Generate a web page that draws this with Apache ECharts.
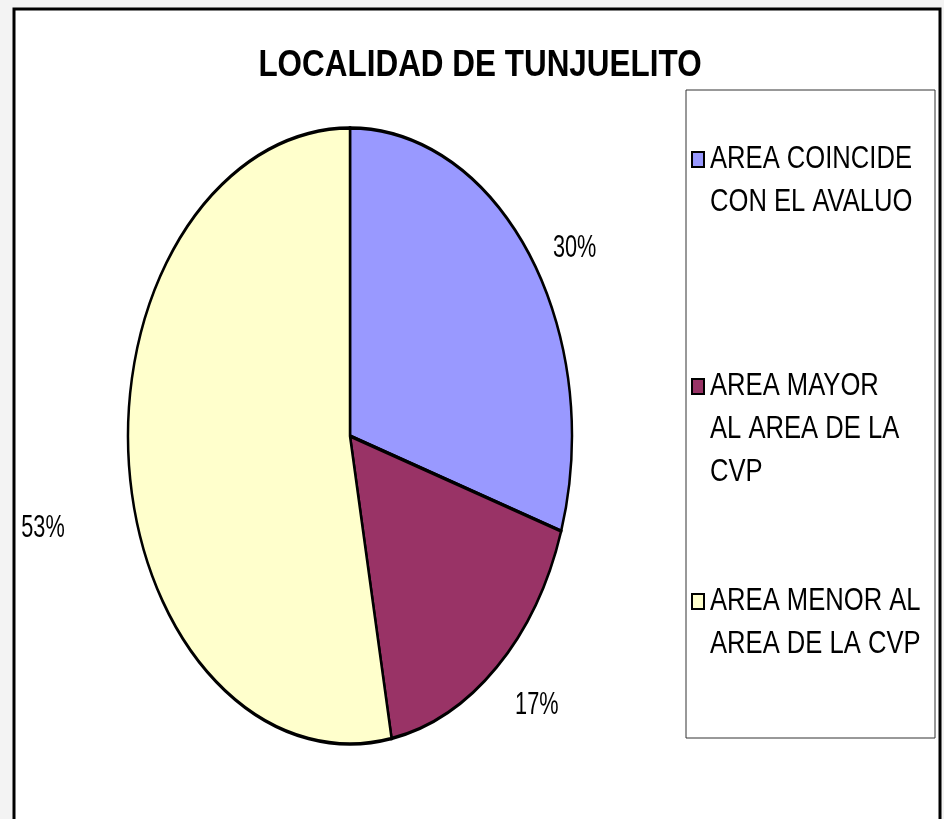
<!DOCTYPE html>
<html>
<head>
<meta charset="utf-8">
<script src="https://cdn.jsdelivr.net/npm/echarts@6/dist/echarts.min.js"></script>
<style>
  html, body { margin: 0; padding: 0; background: #f3f3f3; }
  #chart { width: 944px; height: 819px; }
</style>
</head>
<body>
<div id="chart"></div>
<script>
var chartTitle = 'LOCALIDAD DE TUNJUELITO';
var categories = ['AREA COINCIDE CON EL AVALUO', 'AREA MAYOR AL AREA DE LA CVP', 'AREA MENOR AL AREA DE LA CVP'];
var legendLines = [['AREA COINCIDE', 'CON EL AVALUO'], ['AREA MAYOR', 'AL AREA DE LA', 'CVP'], ['AREA MENOR AL', 'AREA DE LA CVP']];
var values = [30, 17, 53];
var colors = ['#9999ff', '#993366', '#ffffcc'];

// layout (stretched Excel pie -> ellipse)
var cx = 350, cy = 436, rx = 222, ry = 308;
var labelNudge = [[45, -7], [40, 38], [-86, 63]];
var legendTops = [159, 386, 601];
var lineH = 43;
var font = '"Liberation Sans", Arial, sans-serif';

var total = values.reduce(function (a, b) { return a + b; }, 0);
var startAngles = [];
var acc = 0;
values.forEach(function (v) {
  startAngles.push(-Math.PI / 2 + acc / total * Math.PI * 2);
  acc += v;
});

function renderSlice(params, api) {
  var i = params.dataIndex;
  var v = api.value(0);
  var a0 = startAngles[i];
  var a1 = a0 + v / total * Math.PI * 2;
  var mid = (a0 + a1) / 2;
  return {
    type: 'group',
    children: [{
      type: 'sector',
      shape: {cx: cx, cy: cy, r: rx, r0: 0, startAngle: a0, endAngle: a1, clockwise: true},
      scaleY: ry / rx,
      originX: cx,
      originY: cy,
      style: {fill: colors[i], stroke: '#000', lineWidth: 2.5, strokeNoScale: true}
    }, {
      type: 'text',
      x: cx + rx * Math.cos(mid) + labelNudge[i][0],
      y: cy + ry * Math.sin(mid) + labelNudge[i][1],
      scaleX: 0.7,
      style: {
        text: Math.round(v / total * 100) + '%',
        fill: '#000',
        font: '31px ' + font,
        align: 'center',
        verticalAlign: 'middle'
      }
    }]
  };
}

// legend drawn as graphic so the marker sits on the first text line
var legendItems = [];
legendLines.forEach(function (lines, i) {
  legendItems.push({
    type: 'rect',
    shape: {x: 692, y: legendTops[i] - 7, width: 12, height: 15},
    style: {fill: colors[i], stroke: '#000', lineWidth: 2}
  });
  lines.forEach(function (t, k) {
    legendItems.push({
      type: 'text',
      x: 710,
      y: legendTops[i] + k * lineH,
      scaleX: 0.8,
      style: {text: t, fill: '#000', font: '32px ' + font, verticalAlign: 'middle'}
    });
  });
});

var chart = echarts.init(document.getElementById('chart'));
chart.setOption({
  backgroundColor: '#f3f3f3',
  animation: false,
  graphic: [{
    type: 'rect',
    z: -10,
    shape: {x: 14, y: 9, width: 926, height: 830},
    style: {fill: '#fff', stroke: '#000', lineWidth: 3}
  }, {
    type: 'rect',
    z: -5,
    shape: {x: 686, y: 90, width: 249, height: 648},
    style: {fill: '#fff', stroke: '#333', lineWidth: 1}
  }, {
    type: 'text',
    x: 480,
    y: 66,
    scaleX: 0.85,
    style: {text: chartTitle, fill: '#000', font: 'bold 37px ' + font, align: 'center', verticalAlign: 'middle'}
  }, {
    type: 'group',
    children: legendItems
  }],
  series: [{
    type: 'custom',
    name: 'Tunjuelito',
    coordinateSystem: 'none',
    renderItem: renderSlice,
    data: values.map(function (v, i) { return {name: categories[i], value: [v]}; })
  }]
});
</script>
</body>
</html>
